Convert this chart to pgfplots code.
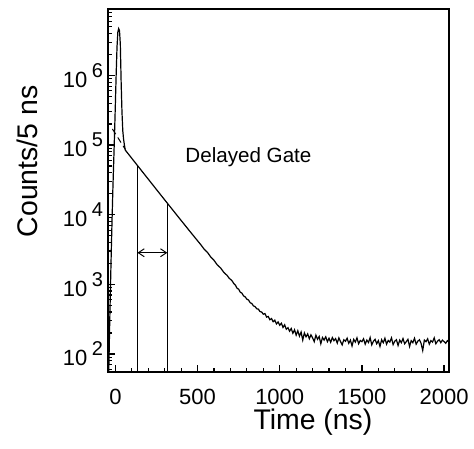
\documentclass[border=0pt]{standalone}
\usepackage{fontspec}
\setmainfont{Liberation Sans}
\usepackage{pgfplots}
\pgfplotsset{compat=1.18}
\usetikzlibrary{arrows.meta}

\newcommand{\tenp}[1]{10\hspace{0.2em}\raisebox{0.45em}{\fontsize{10}{11}\selectfont #1}}

\begin{document}
\begin{tikzpicture}
\begin{axis}[
    scale only axis, width=170.5pt, height=181.5pt,
    ymode=log, xmin=-45, xmax=2030, ymin=55, ymax=9e6,
    axis line style={line width=0.8pt},
    xtick={0,500,1000,1500,2000}, xticklabels={0,500,1000,1500,2000},
    minor x tick num=4,
    ytick={1e2,1e3,1e4,1e5,1e6},
    yticklabels={\tenp{2},\tenp{3},\tenp{4},\tenp{5},\tenp{6}},
    minor ytick={60,70,80,90,200,300,400,500,600,700,800,900,
      2000,3000,4000,5000,6000,7000,8000,9000,
      2e4,3e4,4e4,5e4,6e4,7e4,8e4,9e4,2e5,3e5,4e5,5e5,6e5,7e5,8e5,9e5,
      2e6,3e6,4e6,5e6,6e6,7e6,8e6},
    xtick pos=lower, ytick pos=left, tick align=inside,
    major tick length=3.5pt, minor tick length=2pt,
    tick style={black, line width=0.6pt},
    ticklabel style={font=\fontsize{11}{13}\selectfont},
    xticklabel style={yshift=-5pt},
    yticklabel style={xshift=1pt},
    xlabel={Time (ns)}, ylabel={Counts/5 ns},
    label style={font=\fontsize{14.2}{16}\selectfont},
    xlabel style={at={(axis description cs:0.601,0)}, anchor=north, yshift=-15pt},
    ylabel style={at={(axis description cs:-0.2375,0.58)}, anchor=center},
]
% prompt spike and decay
\addplot[black, line width=0.6pt] coordinates {
 (-45,40) (-40,60) (-35,250) (-30,900) (-25,3000) (-20,9000) (-15,2.5e4)
 (-10,6e4) (-5,1.5e5) (0,4e5) (5,1.1e6) (10,2.6e6) (15,4.2e6) (20,4.7e6)
 (25,4.4e6) (30,2.8e6) (35,8e5) (40,3e5) (45,1.6e5) (50,1.2e5) (55,1.0e5)
 (60,84770) (80,73880) (100,64370) (120,56100) (140,48890) (160,42610)
 (180,37140) (200,32380) (220,28220) (240,24610) (260,21450) (280,18710)
 (300,16320) (320,14230) (340,12420) (360,10840) (380,9460) (400,8260)
 (420,7216) (440,6305) (460,5513) (480,4822) (500,4220) (520,3696)
 (540,3200) (560,2880) (580,2470) (600,2210) (620,1900) (640,1720)
 (660,1480) (680,1340) (690,1240)
 (700,1180) (710,1120) (720,1030) (730,975) (740,880) (750,850) (760,770)
 (770,745) (780,680) (790,660) (800,610) (810,595) (820,545) (830,530)
 (840,490) (850,478) (860,445) (870,440) (880,405) (890,400) (900,372)
 (910,380) (920,338) (930,345) (940,310) (950,322) (960,290) (970,305)
 (980,270) (990,288) (1000,258) (1010,276) (1020,240) (1030,262) (1040,226)
 (1050,238) (1060,212) (1070,232) (1080,198) (1090,222) (1100,186)
 (1110,215) (1120,180) (1130,206) (1140,158) (1150,200) (1160,176)
 (1170,194) (1180,165) (1190,188) (1200,170) (1210,150) (1220,186)
 (1230,162) (1240,178) (1250,140) (1260,172) (1270,158) (1280,176)
 (1290,150) (1300,168) (1310,147) (1320,172) (1330,155) (1340,166)
 (1350,143) (1360,170) (1370,150) (1380,135) (1390,160) (1400,152)
 (1410,168) (1420,142) (1430,158) (1440,130) (1450,162) (1460,148)
 (1470,170) (1480,140) (1490,156) (1500,150) (1510,165) (1520,138)
 (1530,158) (1540,146) (1550,172) (1560,135) (1570,152) (1580,162)
 (1590,140) (1600,155) (1610,128) (1620,160) (1630,145) (1640,168)
 (1650,138) (1660,156) (1670,148) (1680,170) (1690,136) (1700,152)
 (1710,160) (1720,132) (1730,158) (1740,145) (1750,166) (1760,140)
 (1770,150) (1780,162) (1790,128) (1800,155) (1810,145) (1820,168)
 (1830,138) (1840,152) (1850,160) (1860,142) (1870,112) (1880,158)
 (1890,150) (1900,165) (1910,138) (1920,155) (1930,148) (1940,170)
 (1950,140) (1960,152) (1970,160) (1980,145) (1990,158) (2000,150)
 (2010,142) (2020,155) (2030,148)
};
% extrapolated decay under the prompt peak
\addplot[black, densely dashed, line width=0.5pt] coordinates {(-18,1.7e5) (60,8.7e4)};
% delayed gate edges
\addplot[black, line width=0.7pt] coordinates {(134,40) (134,50950)};
\addplot[black, line width=0.7pt] coordinates {(316,40) (316,14630)};
\addplot[black, line width=0.5pt, {Straight Barb[length=3pt,width=4pt]}-{Straight Barb[length=3pt,width=4pt]}]
  coordinates {(134,2840) (316,2840)};
\node[anchor=base west, inner sep=0pt, font=\fontsize{10.3}{12}\selectfont]
  at (axis cs:424,5.7e4) {Delayed Gate};
\coordinate (sw) at (rel axis cs:0,0);
\coordinate (ne) at (rel axis cs:1,1);
\end{axis}
\pgfresetboundingbox
\path ([shift={(-54pt,-38pt)}]sw) rectangle ([shift={(12.5pt,4.5pt)}]ne);
\end{tikzpicture}
\end{document}
